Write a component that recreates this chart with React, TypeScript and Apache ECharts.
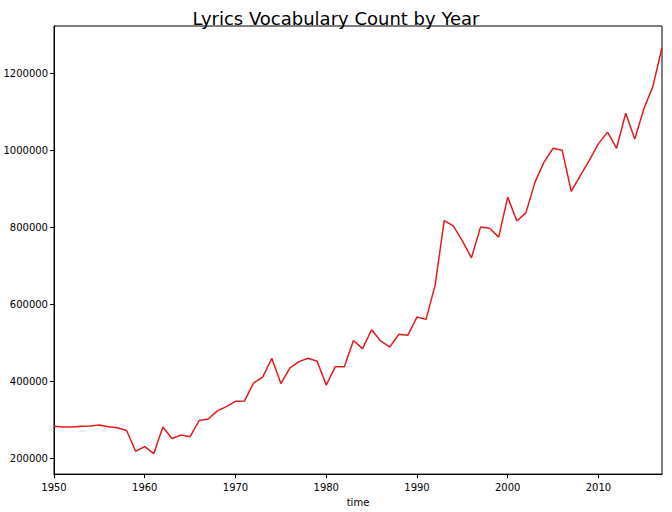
import { useEffect, useRef } from "react";
import * as echarts from "echarts";

const YEARS = Array.from({ length: 68 }, (_, i) => 1950 + i);
const COUNTS = [
  283000, 281000, 281000, 283000, 284000, 286000, 282000, 279000, 272000, 218000,
  230000, 212000, 281000, 251000, 260000, 256000, 298000, 302000, 323000, 334000,
  348000, 349000, 396000, 411000, 460000, 394000, 435000, 451000, 460000, 452000,
  390000, 438000, 438000, 506000, 485000, 534000, 505000, 489000, 522000, 520000,
  567000, 561000, 650000, 818000, 804000, 765000, 721000, 801000, 798000, 775000,
  879000, 817000, 838000, 918000, 970000, 1006000, 1001000, 894000, 935000, 975000,
  1018000, 1048000, 1006000, 1097000, 1030000, 1109000, 1167000, 1268000,
];
const Y_TICKS = [200000, 400000, 600000, 800000, 1000000, 1200000];

export default function App() {
  const ref = useRef<HTMLDivElement>(null);

  useEffect(() => {
    if (!ref.current) return;
    const chart = echarts.init(ref.current, undefined, { renderer: "svg" });
    const font = "DejaVu Sans";
    chart.setOption({
      animation: false,
      textStyle: { fontFamily: font },
      title: {
        text: "Lyrics Vocabulary Count by Year",
        left: "center",
        top: 4,
        textStyle: { fontFamily: font, fontSize: 18, fontWeight: "normal", color: "#000" },
      },
      grid: { left: 54, right: 10, top: 26, bottom: 35, show: true, borderColor: "#000", borderWidth: 1 },
      xAxis: {
        type: "value",
        min: 1950,
        max: 2017,
        interval: 10,
        name: "time",
        nameLocation: "middle",
        nameGap: 22,
        nameTextStyle: { color: "#000", fontSize: 10 },
        axisLine: { lineStyle: { color: "#000" } },
        axisTick: { length: 4, lineStyle: { color: "#000" } },
        axisLabel: { color: "#000", fontSize: 10, showMaxLabel: false, formatter: (v: number) => String(v) },
        splitLine: { show: false },
      },
      yAxis: {
        type: "value",
        min: 158600,
        max: 1324000,
        axisLine: { show: true, lineStyle: { color: "#000" } },
        axisTick: { show: true, length: 4, customValues: Y_TICKS, lineStyle: { color: "#000" } },
        axisLabel: { color: "#000", fontSize: 10, margin: 6, customValues: Y_TICKS, formatter: (v: number) => String(v) },
        splitLine: { show: false },
      },
      series: [
        {
          type: "line",
          data: YEARS.map((y, i) => [y, COUNTS[i]]),
          showSymbol: false,
          lineStyle: { color: "#e41a1c", width: 1.5 },
        },
      ],
    });
    return () => chart.dispose();
  }, []);

  return <div ref={ref} style={{ position: "absolute", left: 0, top: 0, width: 672, height: 512 }} />;
}
